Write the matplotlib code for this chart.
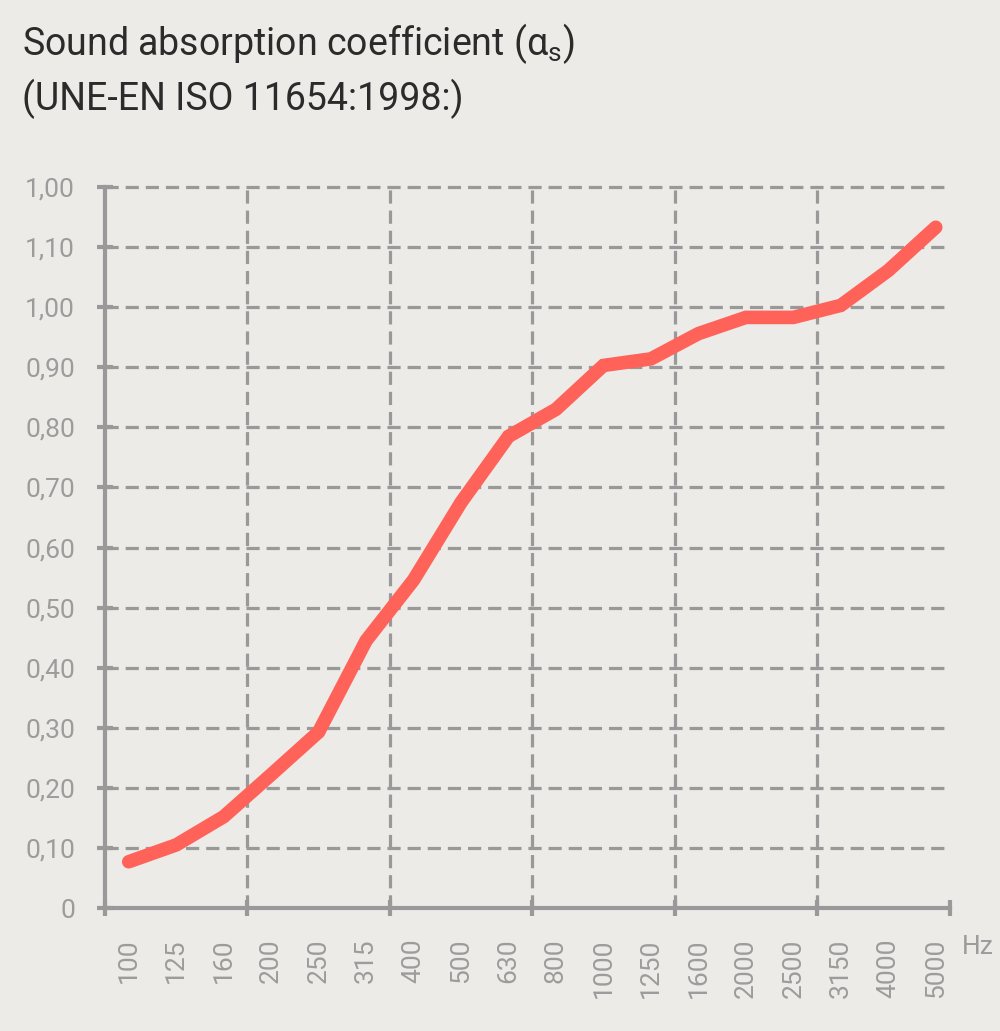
import matplotlib
matplotlib.use("Agg")
import matplotlib.pyplot as plt
import numpy as np

# --- data ------------------------------------------------------------------
freqs = ["100", "125", "160", "200", "250", "315", "400", "500", "630",
         "800", "1000", "1250", "1600", "2000", "2500", "3150", "4000", "5000"]
alpha_s = [0.077, 0.105, 0.152, 0.222, 0.293, 0.445, 0.546, 0.675, 0.785,
           0.830, 0.903, 0.914, 0.956, 0.983, 0.983, 1.003, 1.061, 1.133]
y_ticks = [0.0, 0.1, 0.2, 0.3, 0.4, 0.5, 0.6, 0.7, 0.8, 0.9, 1.0, 1.1, 1.2]
y_labels = ["0", "0,10", "0,20", "0,30", "0,40", "0,50", "0,60", "0,70",
            "0,80", "0,90", "1,00", "1,10", "1,00"]

BG = "#ECEBE7"
GREY = "#999999"
LABEL = "#9C9C9C"
RED = "#FF6259"

plt.rcParams["font.family"] = ["Roboto", "DejaVu Sans"]
plt.rcParams["mathtext.default"] = "regular"
plt.rcParams["lines.scale_dashes"] = False

fig = plt.figure(figsize=(10, 10.31), dpi=100, facecolor=BG)
ax = fig.add_axes([0.105, 0.1193, 0.845, 0.6993], facecolor=BG)

x = np.arange(len(freqs))
xmax = len(freqs) - 1 + 0.3
ax.set_xlim(-0.5, xmax)
ax.set_ylim(0, 1.2)

# grid: horizontal at every y tick, vertical every third band
dash = (0, (9.5, 5))
for yv in y_ticks[1:]:
    ax.plot([-0.5, xmax], [yv, yv], color=GREY, lw=2.3, ls=dash, zorder=1,
            clip_on=False)
for xv in np.arange(2.5, len(freqs) - 1, 3):
    ax.plot([xv, xv], [0, 1.2], color=GREY, lw=2.3, ls=dash, zorder=1)

ax.plot(x, alpha_s, color=RED, lw=9.8, solid_capstyle="round",
        solid_joinstyle="miter", zorder=3)

for side in ("top", "right"):
    ax.spines[side].set_visible(False)
ax.spines["left"].set_color(GREY)
ax.spines["left"].set_linewidth(3)
ax.spines["bottom"].set_color(GREY)
ax.spines["bottom"].set_linewidth(3)

ax.set_yticks(y_ticks)
ax.set_yticklabels(y_labels)
ax.tick_params(axis="y", direction="inout", length=11, width=3, color=GREY,
               labelcolor=LABEL, labelsize=19, pad=16)

# major x ticks at band boundaries, labels on minor ticks at band centres
bounds = list(np.arange(-0.5, len(freqs) - 1, 3)) + [xmax]
ax.set_xticks(bounds)
ax.set_xticklabels([])
ax.set_xticks(x, minor=True)
ax.set_xticklabels(freqs, minor=True, rotation=90)
ax.tick_params(axis="x", which="major", direction="inout", length=11, width=3,
               color=GREY)
ax.tick_params(axis="x", which="minor", length=0, labelcolor=LABEL,
               labelsize=19, pad=22)

fig.text(0.962, 1 - 947 / 1031, "Hz", ha="left", va="center", color=LABEL,
         fontsize=19)

fig.text(0.022, 1 - 55 / 1031, r"Sound absorption coefficient ($\alpha_{s}$)",
         ha="left", va="baseline", color="#2B2B2B", fontsize=27)
fig.text(0.022, 1 - 110 / 1031, "(UNE-EN ISO 11654:1998:)",
         ha="left", va="baseline", color="#2B2B2B", fontsize=27)

fig.savefig("out.png", dpi=100, facecolor=BG)
